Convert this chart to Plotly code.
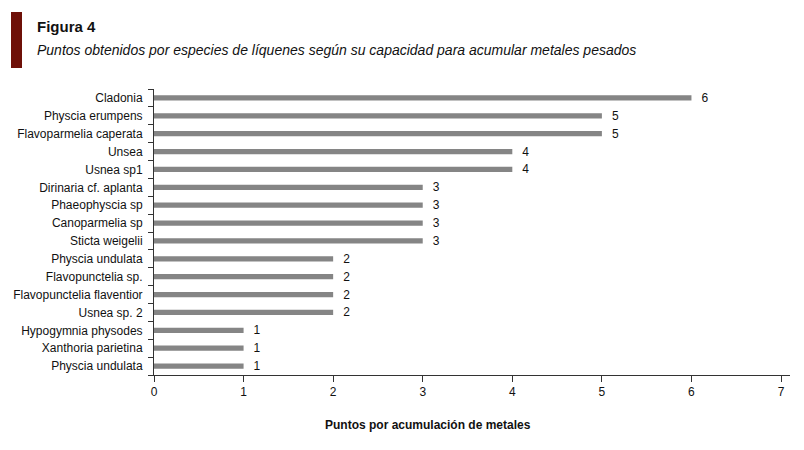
import plotly.graph_objects as go

# Especies (de arriba hacia abajo) y puntos
especies = [
    "Cladonia", "Physcia erumpens", "Flavoparmelia caperata", "Unsea",
    "Usnea sp1", "Dirinaria cf. aplanta", "Phaeophyscia sp", "Canoparmelia sp",
    "Sticta weigelii", "Physcia undulata", "Flavopunctelia sp.",
    "Flavopunctelia flaventior", "Usnea sp. 2", "Hypogymnia physodes",
    "Xanthoria parietina", "Physcia undulata",
]
puntos = [6, 5, 5, 4, 4, 3, 3, 3, 3, 2, 2, 2, 2, 1, 1, 1]
x_ticks = [0, 1, 2, 3, 4, 5, 6, 7]

# nombres repetidos -> hacerlos únicos con un espacio de ancho cero
vistos = {}
etiquetas = []
for e in especies:
    vistos[e] = vistos.get(e, 0) + 1
    etiquetas.append(e + "\u200b" * (vistos[e] - 1))

fig = go.Figure(go.Bar(
    x=puntos, y=etiquetas, orientation="h",
    width=0.3,
    marker=dict(color="#858585", line=dict(width=0)),
    text=["   " + str(p) for p in puntos],
    textposition="outside",
    constraintext="none",
    textfont=dict(size=12, color="#111111"),
    cliponaxis=False,
))

# la página tiene 8px de margen en el body -> figura un poco más pequeña
fig.update_layout(
    width=788, height=434,
    paper_bgcolor="white", plot_bgcolor="white",
    font=dict(family="Liberation Sans, Arial", size=12, color="#111111"),
    margin=dict(l=146, r=6, t=81, b=67),
    showlegend=False,
)

fig.update_xaxes(
    range=[0, 7.1], tickvals=x_ticks, automargin=False,
    showgrid=False, zeroline=False,
    showline=True, linecolor="#333333", linewidth=1,
    ticks="outside", ticklen=6, tickcolor="#333333",
    tickfont=dict(size=12),
)
fig.update_yaxes(
    categoryorder="array", categoryarray=etiquetas[::-1],
    autorange=False, range=[-0.5, len(etiquetas) - 0.5], automargin=False,
    showgrid=False, zeroline=False,
    showline=True, linecolor="#333333", linewidth=1,
    ticks="outside", tickson="boundaries", ticklen=5, tickcolor="#333333",
    ticklabelstandoff=8,
    tickfont=dict(size=12),
)

# barra roja del encabezado
fig.add_shape(type="rect", xref="paper", yref="paper",
              x0=-143 / 636, x1=-132 / 636, y0=(375 - 12) / 286, y1=(375 - 68) / 286,
              fillcolor="#6e1008", line=dict(width=0))

fig.add_annotation(text="<b>Figura 4</b>", xref="paper", yref="paper",
                   x=-119 / 636, y=(375 - 27) / 286, xanchor="left", yanchor="middle",
                   showarrow=False, font=dict(size=15, color="#111111"))
fig.add_annotation(
    text="<i>Puntos obtenidos por especies de líquenes según su capacidad para acumular metales pesados</i>",
    xref="paper", yref="paper", x=-119 / 636, y=(375 - 50) / 286,
    xanchor="left", yanchor="middle", showarrow=False,
    font=dict(size=14, color="#111111"))
fig.add_annotation(text="<b>Puntos por acumulación de metales</b>", xref="paper", yref="paper",
                   x=(428 - 154) / 636, y=(375 - 425) / 286, xanchor="center", yanchor="middle",
                   showarrow=False, font=dict(size=12, color="#111111"))

fig.write_html("out.html")
